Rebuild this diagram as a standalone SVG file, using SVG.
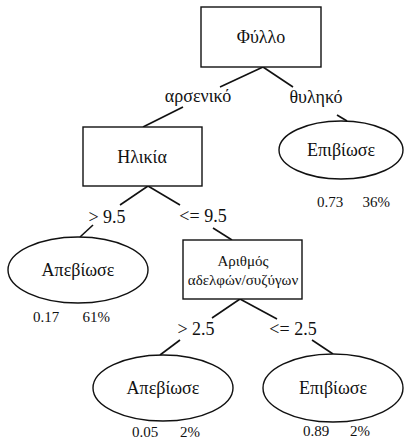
<svg xmlns="http://www.w3.org/2000/svg" width="414" height="441" viewBox="0 0 414 441" font-family="Liberation Serif, Times New Roman, serif">
<style>
.n{fill:#fff;stroke:#111;stroke-width:1.4}
.c line{stroke:#111;stroke-width:1.6}
text{fill:#111;font-family:'Liberation Serif','Times New Roman',serif}
.t{font-size:18px;text-anchor:middle}
.s{font-size:15px;text-anchor:middle}
.v{font-size:15px}
.e{text-anchor:end}
</style>
<rect width="414" height="441" fill="#fff"/>
<g id="connectors" class="c">
<line x1="263" y1="67" x2="220" y2="87"/>
<line x1="183" y1="107" x2="143" y2="127"/>
<line x1="263" y1="67" x2="293" y2="87"/>
<line x1="337" y1="115" x2="347" y2="121"/>
<line x1="148" y1="186" x2="120" y2="205"/>
<line x1="93" y1="225" x2="80" y2="237"/>
<line x1="148" y1="186" x2="180" y2="205"/>
<line x1="213" y1="228" x2="232" y2="240"/>
<line x1="240" y1="299" x2="212" y2="318"/>
<line x1="180" y1="340" x2="160" y2="355"/>
<line x1="240" y1="299" x2="277" y2="319"/>
<line x1="312" y1="340" x2="333" y2="354"/>
<text class="t" x="198" y="102">αρσενικό</text>
<text class="t" x="316" y="103">θυληκό</text>
<text class="t" x="107" y="223">&gt; 9.5</text>
<text class="t" x="203" y="222">&lt;= 9.5</text>
<text class="t" x="196" y="335">&gt; 2.5</text>
<text class="t" x="293" y="335">&lt;= 2.5</text>
</g>
<g id="root">
<rect class="n" x="201" y="7" width="120" height="60"/>
<text class="t" x="261" y="43">Φύλλο</text>
</g>
<g id="age">
<rect class="n" x="83" y="127" width="119" height="59"/>
<text class="t" x="142" y="163">Ηλικία</text>
</g>
<g id="survived1">
<ellipse class="n" cx="341" cy="150" rx="62" ry="29"/>
<text class="t" x="341" y="156">Επιβίωσε</text>
<text class="v" x="317" y="207">0.73</text>
<text class="v e" x="390" y="207">36%</text>
</g>
<g id="died1">
<ellipse class="n" cx="78" cy="270" rx="70" ry="33"/>
<text class="t" x="78" y="276">Απεβίωσε</text>
<text class="v" x="33" y="322">0.17</text>
<text class="v e" x="110" y="322">61%</text>
</g>
<g id="siblings">
<rect class="n" x="183" y="240" width="119" height="59"/>
<text class="s" x="243" y="266">Αριθμός</text>
<text class="s" x="243" y="285">αδελφών/συζύγων</text>
</g>
<g id="died2">
<ellipse class="n" cx="163" cy="388" rx="70" ry="33"/>
<text class="t" x="163" y="394">Απεβίωσε</text>
<text class="v" x="132" y="437">0.05</text>
<text class="v e" x="200" y="437">2%</text>
</g>
<g id="survived2">
<ellipse class="n" cx="333" cy="388" rx="70" ry="34"/>
<text class="t" x="333" y="394">Επιβίωσε</text>
<text class="v" x="303" y="436">0.89</text>
<text class="v e" x="370" y="436">2%</text>
</g>
</svg>
